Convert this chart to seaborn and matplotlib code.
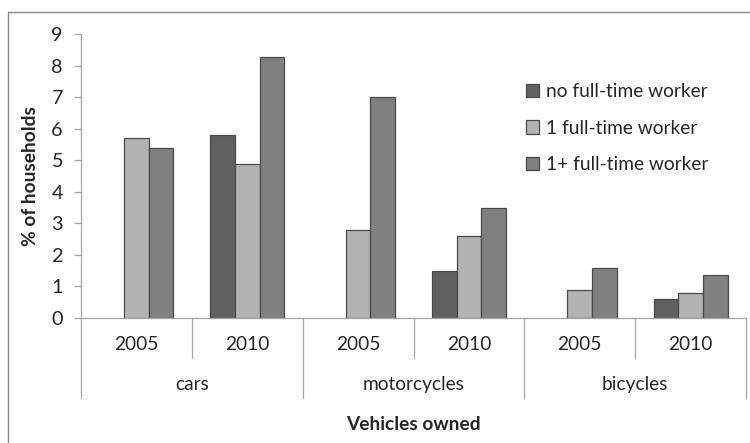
import matplotlib
matplotlib.use("Agg")
import matplotlib.pyplot as plt
from matplotlib.lines import Line2D
import seaborn as sns
import pandas as pd
import numpy as np

# Data: share of households owning each vehicle type, by survey year and worker status
vehicles = ["cars", "motorcycles", "bicycles"]
years = ["2005", "2010"]
workers = ["no full-time worker", "1 full-time worker", "1+ full-time worker"]
no_ft = [np.nan, 5.8, np.nan, 1.5, np.nan, 0.6]
one_ft = [5.7, 4.9, 2.8, 2.6, 0.9, 0.8]
multi_ft = [5.4, 8.27, 7.0, 3.5, 1.6, 1.35]
y_ticks = [0, 1, 2, 3, 4, 5, 6, 7, 8, 9]

groups = [f"{v} {y}" for v in vehicles for y in years]
df = pd.DataFrame({
    "group": groups * 3,
    "worker": np.repeat(workers, len(groups)),
    "value": no_ft + one_ft + multi_ft,
})

sns.set_theme(style="white")
plt.rcParams["font.family"] = ["Lato", "DejaVu Sans"]
text_color = "#262626"
axis_color = "#a6a6a6"
fs = 13.8

fig = plt.figure(figsize=(7.5, 4.43), dpi=100)
ax = fig.add_axes([81 / 750, 1 - 318 / 443, 665 / 750, (318 - 34.3) / 443])

palette = {workers[0]: "#606060", workers[1]: "#b3b3b3", workers[2]: "#808080"}
sns.barplot(data=df, x="group", y="value", hue="worker", order=groups,
            hue_order=workers, palette=palette, width=0.667,
            edgecolor="#4a4a4a", linewidth=0.9, saturation=1, ax=ax)

ax.set_xlim(-0.5, len(groups) - 0.5)
ax.set_ylim(0, 9)
ax.set_yticks(y_ticks)
ax.set_yticklabels([str(t) for t in y_ticks], fontsize=fs + 0.5, color=text_color)
ax.tick_params(axis="y", length=5, width=0.9, color=axis_color, pad=8, left=True)
ax.tick_params(axis="x", bottom=False, labelbottom=False)
ax.set_xlabel("")
ax.set_ylabel("% of households", fontsize=fs, fontweight="bold",
              color=text_color, labelpad=9)
for side in ["top", "right"]:
    ax.spines[side].set_visible(False)
ax.spines["left"].set_color(axis_color)
ax.spines["bottom"].set_color(axis_color)
ax.spines["left"].set_linewidth(0.9)
ax.spines["bottom"].set_linewidth(0.9)

# Two-level category axis: years under each bar group, vehicle types beneath
trans = ax.get_xaxis_transform()
for i, g in enumerate(groups):
    ax.text(i, -0.095, g.split()[1], transform=trans, ha="center", va="center",
            fontsize=fs, color=text_color)
for k, v in enumerate(vehicles):
    ax.text(2 * k + 0.5, -0.236, v, transform=trans, ha="center", va="center",
            fontsize=fs, color=text_color)
for x in np.arange(-0.5, len(groups), 1.0):
    bottom = -0.282 if int(x + 0.5) % 2 == 0 else -0.141
    ax.plot([x, x], [0, bottom], transform=trans, color=axis_color,
            lw=0.9, clip_on=False)
ax.text(2.5, -0.374, "Vehicles owned", transform=trans, ha="center",
        va="center", fontsize=fs, fontweight="bold", color=text_color)

leg = ax.legend(loc="upper left", bbox_to_anchor=(526 / 750, 1 - 83 / 443),
                bbox_transform=fig.transFigure, frameon=False, fontsize=fs,
                handlelength=0.7, handleheight=0.7, handletextpad=0.35,
                labelspacing=1.02, borderaxespad=0, borderpad=0)
for t in leg.get_texts():
    t.set_color(text_color)

# Chart frame
fig.add_artist(Line2D([7.5 / 750, 7.5 / 750], [0, 1 - 11.5 / 443],
                      transform=fig.transFigure, color="#878787", lw=1))
fig.add_artist(Line2D([7.5 / 750, 1], [1 - 11.5 / 443, 1 - 11.5 / 443],
                      transform=fig.transFigure, color="#878787", lw=1))

fig.savefig("out.png", dpi=100)
